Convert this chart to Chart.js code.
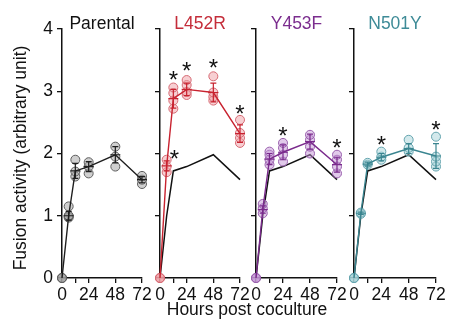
<!DOCTYPE html>
<html>
<head>
<meta charset="utf-8">
<script src="https://cdn.jsdelivr.net/npm/chart.js@4"></script>
<style>
  body { margin: 0; background: #fff; }
  #fig { position: relative; width: 453px; height: 330px; font-family: "Liberation Sans", Arial, sans-serif; color: #111; }
  #fig canvas { position: absolute; top: 0; }
  #xtitle { position: absolute; left: 47px; width: 400px; top: 299px; font-size: 17.5px; line-height: 20px; text-align: center; }
</style>
</head>
<body>
<div id="fig">
  <canvas id="c0"></canvas>
  <canvas id="c1"></canvas>
  <canvas id="c2"></canvas>
  <canvas id="c3"></canvas>
  <div id="xtitle">Hours post coculture</div>
</div>
<script>
// sampling times (h) and axis ticks
const HOURS = [0, 6, 12, 24, 48, 72];
const X_TICKS = [0, 12, 24, 48, 72];
const X_TICK_LABELS = ["0", "", "24", "48", "72"];
const Y_TICKS = [0, 1, 2, 3, 4];
const Y_TITLE = "Fusion activity (arbitrary unit)";

const NAMES = ["Parental", "L452R", "Y453F", "N501Y"];

// replicate values per time point, then mean and error
const PARENTAL_REPS = [[0, 0, 0], [0.97, 0.99, 1.0, 1.15], [1.63, 1.71, 1.9], [1.68, 1.79, 1.86], [1.79, 1.95, 2.11], [1.51, 1.58, 1.64]];
const PARENTAL_MEAN = [0, 1.0, 1.72, 1.79, 1.98, 1.58];
const PARENTAL_ERR = [0, 0.07, 0.12, 0.08, 0.13, 0.05];

const L452R_REPS = [[0, 0, 0], [1.7, 1.79, 1.9], [2.72, 2.85, 2.97, 3.06], [2.94, 2.99, 3.1, 3.18], [2.85, 2.91, 2.98, 3.24], [2.17, 2.25, 2.33, 2.54]];
const L452R_MEAN = [0, 1.8, 2.88, 3.03, 2.98, 2.32];
const L452R_ERR = [0, 0.08, 0.15, 0.1, 0.15, 0.14];

const Y453F_REPS = [[0, 0, 0], [1.04, 1.12, 1.19], [1.82, 1.9, 1.98, 2.03], [1.87, 1.98, 2.09, 2.17], [2.0, 2.11, 2.22, 2.3], [1.68, 1.79, 1.9, 1.98]];
const Y453F_MEAN = [0, 1.1, 1.91, 2.02, 2.19, 1.82];
const Y453F_ERR = [0, 0.06, 0.09, 0.12, 0.12, 0.12];

const N501Y_REPS = [[0, 0, 0], [1.03, 1.05], [1.82, 1.85], [1.9, 1.95, 2.03], [2.03, 2.09, 2.22], [1.79, 1.87, 1.95, 2.27]];
const N501Y_MEAN = [0, 1.04, 1.83, 1.94, 2.08, 1.96];
const N501Y_ERR = [0, 0.02, 0.03, 0.06, 0.08, 0.2];

// asterisk positions [hour, value]
const STARS = [
  [],
  [[13, 2.0], [12, 3.27], [24, 3.41], [48, 3.46], [72, 2.73]],
  [[24, 2.37], [72, 2.17]],
  [[24, 2.22], [72, 2.46]],
];

const REPS = [PARENTAL_REPS, L452R_REPS, Y453F_REPS, N501Y_REPS];
const MEANS = [PARENTAL_MEAN, L452R_MEAN, Y453F_MEAN, N501Y_MEAN];
const ERRS = [PARENTAL_ERR, L452R_ERR, Y453F_ERR, N501Y_ERR];

const COLORS = [
  { title: "#111111", line: "#1e1e1e", fill: "rgba(160, 160, 160, 0.5)", edge: "#5e5e5e" },
  { title: "#c42d3a", line: "#c8222f", fill: "rgba(240, 160, 166, 0.5)", edge: "#d66a74" },
  { title: "#7b2d8e", line: "#7a2a8c", fill: "rgba(196, 150, 214, 0.5)", edge: "#9a60ae" },
  { title: "#3e8b97", line: "#3a8590", fill: "rgba(168, 212, 218, 0.5)", edge: "#64a4ae" },
];

// panel geometry: left edge of plot area, plot width, y-axis box width
const PLOT_LEFT = [62, 160, 256, 354];
const PLOT_W = [80, 80, 81, 82];
const AXIS_W = [62, 8, 8, 8];
const PLOT_TOP = 29, PLOT_BOTTOM = 278, H = 330, PAD_RIGHT = 14;
const FONT = { family: '"Liberation Sans", Arial, sans-serif', size: 17.5 };

function points(reps) {
  const out = [];
  reps.forEach((vals, t) => vals.forEach(v => out.push({ x: HOURS[t], y: v })));
  return out;
}
function meanLine(mean) {
  return mean.map((v, t) => ({ x: HOURS[t], y: v }));
}

function overlay(i) {
  const c = COLORS[i];
  return {
    id: "overlay" + i,
    afterDatasetsDraw(chart) {
      const { ctx, scales: { x, y } } = chart;
      ctx.save();
      ctx.strokeStyle = c.line;
      ctx.lineWidth = 1.2;
      MEANS[i].forEach((m, t) => {
        const e = ERRS[i][t];
        if (!e) return;
        const px = x.getPixelForValue(HOURS[t]);
        const lo = y.getPixelForValue(m - e), hi = y.getPixelForValue(m + e), mid = y.getPixelForValue(m);
        ctx.beginPath();
        ctx.moveTo(px, lo); ctx.lineTo(px, hi);
        ctx.moveTo(px - 3, lo); ctx.lineTo(px + 3, lo);
        ctx.moveTo(px - 3, hi); ctx.lineTo(px + 3, hi);
        ctx.moveTo(px - 5, mid); ctx.lineTo(px + 5, mid);
        ctx.stroke();
      });
      ctx.restore();
    },
    afterDraw(chart) {
      const { ctx, chartArea, scales: { x, y } } = chart;
      ctx.save();
      ctx.font = `${FONT.size}px ${FONT.family}`;
      ctx.textAlign = "center";
      ctx.textBaseline = "alphabetic";
      ctx.fillStyle = c.title;
      ctx.fillText(NAMES[i], (chartArea.left + chartArea.right) / 2, PLOT_TOP);
      ctx.fillStyle = "#111";
      ctx.font = `24px ${FONT.family}`;
      STARS[i].forEach(([h, v]) => {
        ctx.fillText("*", x.getPixelForValue(h), y.getPixelForValue(v) + 13.5);
      });
      if (i === 0) {
        ctx.font = `${FONT.size}px ${FONT.family}`;
        ctx.translate(26, 158);
        ctx.rotate(-Math.PI / 2);
        ctx.fillText(Y_TITLE, 0, 0);
      }
      ctx.restore();
    },
  };
}

NAMES.forEach((name, i) => {
  const canvas = document.getElementById("c" + i);
  canvas.width = AXIS_W[i] + PLOT_W[i] + PAD_RIGHT;
  canvas.height = H;
  canvas.style.left = (PLOT_LEFT[i] - AXIS_W[i]) + "px";
  const c = COLORS[i];

  const datasets = [
    {
      type: "line", data: meanLine(MEANS[i]), borderColor: c.line, borderWidth: 1.4,
      pointRadius: 0, order: 0, clip: false,
    },
    {
      type: "scatter", data: points(REPS[i]), backgroundColor: c.fill, borderColor: c.edge,
      borderWidth: 1, pointRadius: 4.5, order: 1, clip: false,
    },
  ];
  if (i > 0) {
    datasets.push({
      type: "line", data: meanLine(PARENTAL_MEAN), borderColor: "#111", borderWidth: 1.5,
      pointRadius: 0, order: 2, clip: false,
    });
  }

  new Chart(canvas, {
    type: "scatter",
    data: { datasets },
    options: {
      responsive: false,
      animation: false,
      layout: { padding: { top: PLOT_TOP, right: PAD_RIGHT, bottom: 0, left: 0 } },
      plugins: { legend: { display: false }, tooltip: { enabled: false } },
      scales: {
        x: {
          type: "linear", min: 0, max: 72,
          afterBuildTicks: s => { s.ticks = X_TICKS.map(v => ({ value: v })); },
          afterFit: s => { s.height = H - PLOT_BOTTOM; },
          ticks: {
            autoSkip: false, maxRotation: 0, padding: 2, color: "#111", font: FONT,
            callback: (v, k) => X_TICK_LABELS[k],
          },
          grid: { drawOnChartArea: false, tickLength: 5, color: "#111", lineWidth: 1.3 },
          border: { color: "#111", width: 1.5 },
        },
        y: {
          min: 0, max: 4,
          afterBuildTicks: s => { s.ticks = Y_TICKS.map(v => ({ value: v })); },
          afterFit: s => { s.width = AXIS_W[i]; },
          ticks: {
            padding: 4, color: "#111", font: FONT,
            callback: v => (i === 0 ? String(v) : ""),
          },
          grid: { drawOnChartArea: false, tickLength: 5, color: "#111", lineWidth: 1.3 },
          border: { color: "#111", width: 1.5 },
        },
      },
    },
    plugins: [overlay(i)],
  });
});
</script>
</body>
</html>
